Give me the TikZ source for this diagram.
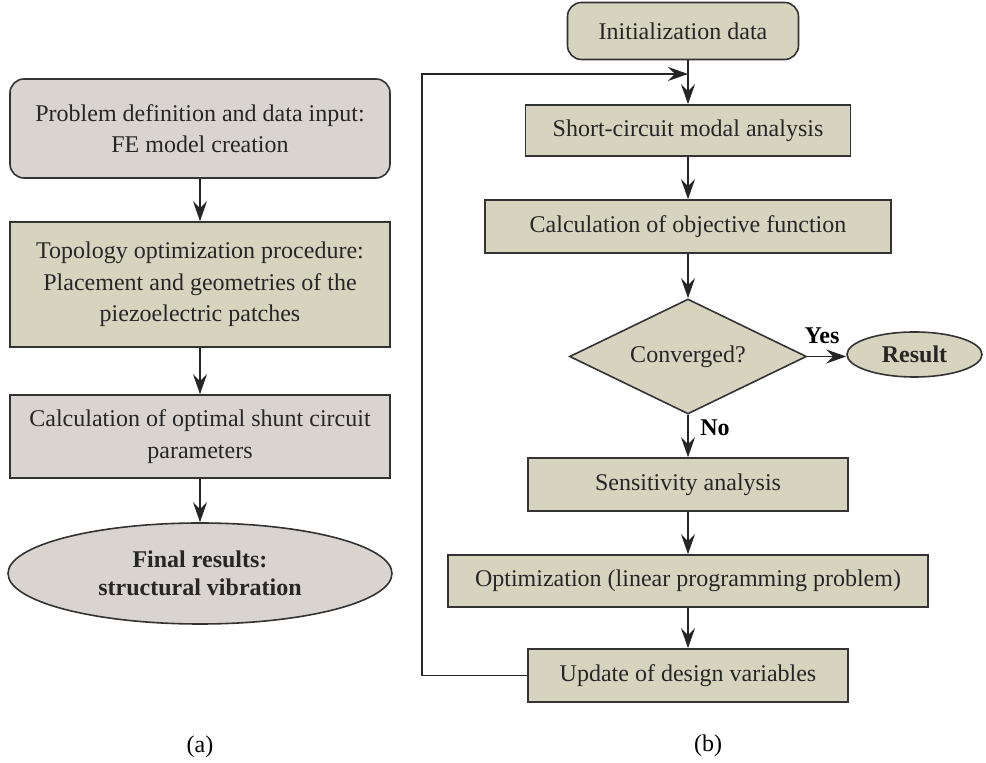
\documentclass[tikz,border=0pt]{standalone}
\usepackage{fontspec}
\setmainfont{Liberation Serif}
\usetikzlibrary{shapes.geometric, arrows.meta}
\definecolor{greybox}{RGB}{217,212,208}
\definecolor{khakibox}{RGB}{214,211,191}
\tikzset{box/.style={draw=black!80, line width=0.8pt, align=center, inner sep=2pt,
    font=\fontsize{12}{15.8}\selectfont, text=black!85},
  greyfill/.style={fill=greybox},
  khakifill/.style={fill=khakibox},
  flow/.style={draw=black!85, line width=0.8pt, -{Stealth[length=10pt,width=7pt,inset=3.5pt]}},
  tag/.style={font=\bfseries\fontsize{12}{14}\selectfont}}

\begin{document}
\begin{tikzpicture}[x=0.5pt,y=-0.5pt]
\useasboundingbox (0,0) rectangle (986,763);

% Left chart (a)
\node[box,greyfill,rounded corners=7pt,minimum width=190pt,minimum height=49.5pt] (prob) at (200,128.5)
  {Problem definition and data input:\\FE model creation};
\node[box,khakifill,minimum width=190pt,minimum height=62.5pt] (topo) at (200,284.5)
  {Topology optimization procedure:\\Placement and geometries of the\\piezoelectric patches};
\node[box,greyfill,minimum width=190pt,minimum height=41.5pt] (shunt) at (200,436.5)
  {Calculation of optimal shunt circuit\\parameters};
\node[box,greyfill,ellipse,minimum width=192pt,minimum height=50.5pt,
  font=\bfseries\fontsize{12}{14}\selectfont] (final) at (200,573.5)
  {Final results:\\structural vibration};

% Right chart (b)
\node[box,khakifill,rounded corners=7pt,minimum width=115.5pt,minimum height=28.5pt] (init) at (683,31) {Initialization data};
\node[box,khakifill,minimum width=162.5pt,minimum height=25.5pt] (short) at (688,130.5) {Short-circuit modal analysis};
\node[box,khakifill,minimum width=203pt,minimum height=26.5pt] (calc) at (688,226.5) {Calculation of objective function};
\node[box,khakifill,diamond,aspect=2,inner sep=1pt,minimum width=118.5pt,minimum height=57.5pt] (conv) at (688,356.5) {Converged?};
\node[box,khakifill,ellipse,minimum width=67.5pt,minimum height=22.5pt,font=\bfseries\fontsize{12}{14}\selectfont] (result) at (914.5,354.5) {Result};
\node[box,khakifill,minimum width=160pt,minimum height=26.5pt] (sens) at (688,484.5) {Sensitivity analysis};
\node[box,khakifill,minimum width=240pt,minimum height=26pt] (optim) at (688,581) {Optimization (linear programming problem)};
\node[box,khakifill,minimum width=160pt,minimum height=26.5pt] (update) at (688,675.5) {Update of design variables};
\coordinate (join) at (688,74);

\node[tag] (yes) at (822,336) {Yes};
\node[tag] (no) at (715,428) {No};

% Captions
\node[font=\fontsize{12}{14}\selectfont] (capa) at (200,747) {(a)};
\node[font=\fontsize{12}{14}\selectfont] (capb) at (708,746) {(b)};

% Arrows (a)
\draw[flow] (prob) -- (topo);
\draw[flow] (topo) -- (shunt);
\draw[flow] (shunt) -- (final);

% Arrows (b)
\draw[flow] (init.south -| short.north) -- (short.north);
\draw[flow] (short) -- (calc);
\draw[flow] (calc) -- (conv);
\draw[flow] (conv.east) -- (conv.east -| result.west);
\draw[flow] (conv) -- (sens);
\draw[flow] (sens) -- (optim);
\draw[flow] (optim) -- (update);
% Feedback loop
\draw[flow] (update.west) -- ++(-105,0) |- (join);

\end{tikzpicture}
\end{document}
